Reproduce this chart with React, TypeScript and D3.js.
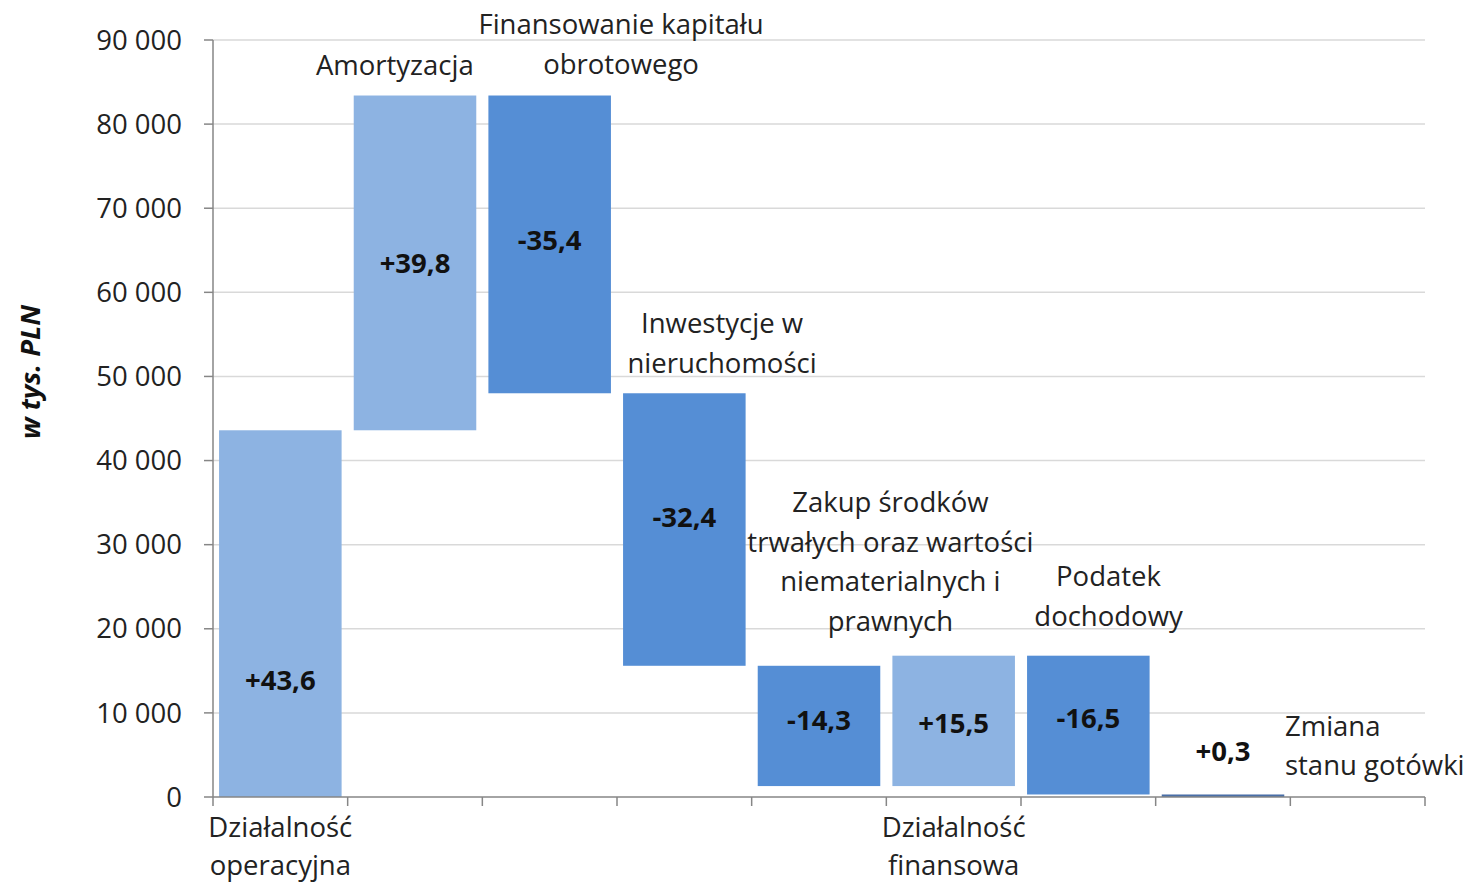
import React from "react";
import * as d3 from "d3";

// ---- data ----
const categories = ["c1", "c2", "c3", "c4", "c5", "c6", "c7", "c8", "c9"];
const barStarts = [0, 43600, 83400, 48000, 15600, 1300, 16800, 0];
const barEnds = [43600, 83400, 48000, 15600, 1300, 16800, 300, 300];
const barKinds = ["inc", "inc", "dec", "dec", "dec", "inc", "dec", "total"];
const valueLabels = ["+43,6", "+39,8", "-35,4", "-32,4", "-14,3", "+15,5", "-16,5", "+0,3"];
const valueLabelAt = [13900, 63400, 66200, 33200, 9100, 8800, 9400, 5400];
const yTicks = [0, 10000, 20000, 30000, 40000, 50000, 60000, 70000, 80000, 90000];
const yTickLabels = ["0", "10 000", "20 000", "30 000", "40 000", "50 000", "60 000", "70 000", "80 000", "90 000"];
const xAxisLabelCats = [0, 5];
const xAxisLabels = [["Działalność", "operacyjna"], ["Działalność", "finansowa"]];
const annotationLines = [
  ["Amortyzacja"],
  ["Finansowanie kapitału", "obrotowego"],
  ["Inwestycje w", "nieruchomości"],
  ["Zakup środków", "trwałych oraz wartości", "niematerialnych i", "prawnych"],
  ["Podatek", "dochodowy"],
  ["Zmiana", "stanu gotówki"],
];
const annotationCat = [1.35, 3.03, 3.78, 5.03, 6.65, 7.96];
const annotationValue = [87000, 91800, 56300, 35000, 26200, 8400];
const annotationAnchor = ["middle", "middle", "middle", "middle", "middle", "start"];
const yTitle = "w tys. PLN";

const colors: Record<string, string> = { inc: "#8db3e2", dec: "#558ed5", total: "#4a6fa8" };

export default function App() {
  const W = 1470, H = 885;
  const left = 213, right = 1425, top = 40, bottom = 797;
  const x = d3.scaleBand<string>().domain(categories).range([left, right]).paddingInner(0.09).paddingOuter(0.045);
  const xb = d3.scaleLinear().domain([0, categories.length]).range([left, right]);
  const y = d3.scaleLinear().domain([0, 90000]).range([bottom, top]);
  const font = "'Open Sans', sans-serif";
  const fs = 27.5;
  const lh = 39.5;
  return (
    <svg width={W} height={H} style={{ position: "absolute", left: 0, top: 0, background: "#fff" }}>
      {yTicks.map((t) => (
        t > 0 ? <line key={"g" + t} x1={left} x2={right} y1={y(t)} y2={y(t)} stroke="#d9d9d9" strokeWidth={1.5} /> : null
      ))}
      {barStarts.map((s, i) => {
        const e = barEnds[i];
        const y0 = y(Math.max(s, e));
        const y1 = y(Math.min(s, e));
        return (
          <rect key={"b" + i} x={x(categories[i])!} width={x.bandwidth()} y={y0} height={Math.max(y1 - y0, 2)} fill={colors[barKinds[i]]} />
        );
      })}
      <line x1={left} x2={left} y1={top} y2={bottom} stroke="#868686" strokeWidth={1.5} />
      <line x1={left} x2={right} y1={bottom} y2={bottom} stroke="#868686" strokeWidth={1.5} />
      {yTicks.map((t, i) => (
        <g key={"yt" + t}>
          <line x1={left - 9} x2={left} y1={y(t)} y2={y(t)} stroke="#868686" strokeWidth={1.5} />
          <text x={182} y={y(t)} dy="0.35em" textAnchor="end" fontFamily={font} fontSize={fs} fill="#222">{yTickLabels[i]}</text>
        </g>
      ))}
      {d3.range(categories.length + 1).map((k) => (
        <line key={"xt" + k} x1={xb(k)} x2={xb(k)} y1={bottom} y2={bottom + 9} stroke="#868686" strokeWidth={1.5} />
      ))}
      {xAxisLabelCats.map((c, i) => (
        <text key={"xl" + i} textAnchor="middle" fontFamily={font} fontSize={fs} fill="#222">
          {xAxisLabels[i].map((l, j) => (
            <tspan key={j} x={x(categories[c])! + x.bandwidth() / 2} y={bottom + 30 + j * 38} dy="0.35em">{l}</tspan>
          ))}
        </text>
      ))}
      {valueLabels.map((l, i) => (
        <text key={"v" + i} x={x(categories[i])! + x.bandwidth() / 2} y={y(valueLabelAt[i])} dy="0.35em" textAnchor="middle" fontFamily={font} fontWeight="bold" fontSize={fs} fill="#111">{l}</text>
      ))}
      {annotationLines.map((lines, i) => (
        <text key={"a" + i} textAnchor={annotationAnchor[i]} fontFamily={font} fontSize={fs} fill="#222">
          {lines.map((l, j) => (
            <tspan key={j} x={xb(annotationCat[i])} y={y(annotationValue[i]) + j * lh} dy="0.35em">{l}</tspan>
          ))}
        </text>
      ))}
      <text transform={`translate(30,372) rotate(-90)`} textAnchor="middle" dy="0.35em" fontFamily={font} fontSize={fs} fontWeight="bold" fontStyle="italic" fill="#111">{yTitle}</text>
    </svg>
  );
}
